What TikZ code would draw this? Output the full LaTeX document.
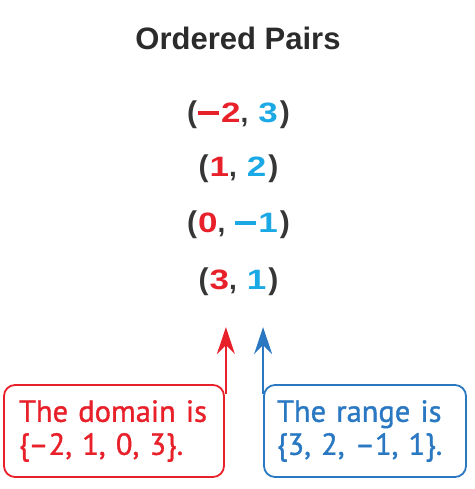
\documentclass[tikz,border=0pt]{standalone}
\usepackage{fontspec}
\setmainfont{Liberation Sans}
\newfontfamily\boxfont[FakeBold=1.2]{PT Sans}
\usetikzlibrary{arrows.meta,calc}
\definecolor{pred}{HTML}{E8202A}
\definecolor{pcyan}{HTML}{1BA9E6}
\definecolor{pblue}{HTML}{2A78C2}
\definecolor{pdark}{HTML}{2B2B2B}
\definecolor{pgray}{HTML}{363636}
\newcommand{\pnum}[1]{\scalebox{1.25}[1]{\fontsize{28}{30}\selectfont\bfseries #1}}
\newcommand{\mns}{\rule[7.5pt]{21pt}{4pt}\kern2pt}
\newcommand{\lpar}{{\color{pgray}\fontsize{30}{32}\selectfont\bfseries(}\kern1pt}
\newcommand{\rpar}{\kern2pt{\color{pgray}\fontsize{30}{32}\selectfont\bfseries)}}
\newcommand{\pcomma}{{\color{pgray}\fontsize{28}{30}\selectfont\bfseries,}\kern10pt}
\newcommand{\pairtxt}[2]{\lpar{\color{pred}#1}\pcomma{\color{pcyan}#2}\rpar}
\begin{document}
\begin{tikzpicture}[x=1pt,y=-1pt,
  pair/.style={inner sep=0pt},
  infobox/.style={draw, line width=1.8pt, rounded corners=11pt, minimum width=218pt, minimum height=92pt,
    text width=190pt, inner xsep=15pt, align=left,
    font=\boxfont\fontsize{30.5}{33}\selectfont},
  pointer/.style={line width=1.8pt, -{Stealth[length=27pt,width=18pt,inset=9pt]}}]
\useasboundingbox (0,0) rectangle (474,489);
\node[font=\fontsize{31}{33}\selectfont\bfseries, text=pdark, inner sep=0pt] (title) at (238,38) {Ordered Pairs};
\node[pair] (p1) at (238.5,115) {\pairtxt{\mns\pnum{2}}{\pnum{3}}};
\node[pair] (p2) at (238.5,169) {\pairtxt{\pnum{1}}{\pnum{2}}};
\node[pair] (p3) at (238.5,225) {\pairtxt{\pnum{0}}{\mns\pnum{1}}};
\node[pair] (p4) at (238.5,282) {\pairtxt{\pnum{3}}{\pnum{1}}};
\node[infobox, draw=pred, text=pred] (dom) at (114,431) {The domain is\\\{–2, 1, 0, 3\}.};
\node[infobox, draw=pblue, text=pblue, minimum width=200pt, text width=176pt, inner xsep=13pt] (rng) at (365,431) {The range is\\\{3, 2, –1, 1\}.};
\coordinate (dtip) at ($(dom.north east)+(1,-57)$);
\coordinate (rtip) at ($(rng.north west)+(0,-57)$);
\draw[pointer, pred] ($(dom.north east)+(1,10)$) -- (dtip);
\draw[pointer, pblue] ($(rng.north west)+(0,10)$) -- (rtip);
\end{tikzpicture}
\end{document}
